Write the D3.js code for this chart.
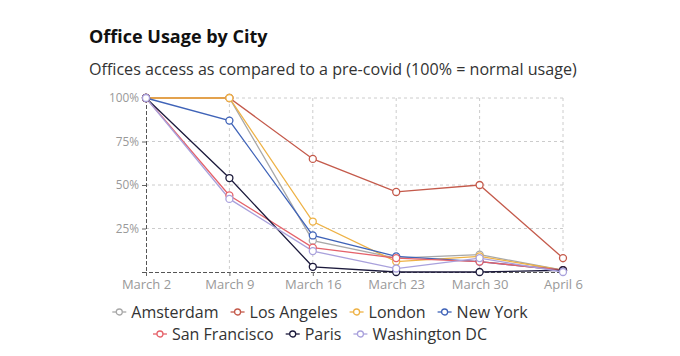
<!DOCTYPE html>
<html><head><meta charset="utf-8">
<script src="https://cdn.jsdelivr.net/npm/d3@7"></script>
<style>
html,body{margin:0;padding:0;background:#fff;}
svg text{font-family:"Open Sans","DejaVu Sans",sans-serif;}
</style></head>
<body><svg id="c" width="680" height="356"></svg>
<script>
const dates = ["March 2","March 9","March 16","March 23","March 30","April 6"];
const yTicks = [25,50,75,100];
const cities = ["Amsterdam","Los Angeles","London","New York","San Francisco","Paris","Washington DC"];
const colors = ["#a8a8a8","#c45a4b","#eeb246","#3f63b8","#e5626a","#1c1a3c","#a9a1dc"];
const amsterdam   = [100,100,18,8,10,1];
const losAngeles  = [100,100,65,46,50,8];
const london      = [100,100,29,6,9,1];
const newYork     = [100,87,21,9,6,1];
const sanFrancisco= [100,44,14,8,6,1];
const paris       = [100,54,3,0,0,1];
const washington  = [100,42,12,2,8,0];
const series = [amsterdam,losAngeles,london,newYork,sanFrancisco,paris,washington];

const svg = d3.select("#c");
const m = {l:146,r:563,t:98,b:272};
const x = d3.scalePoint().domain(dates).range([m.l,m.r]);
const y = d3.scaleLinear().domain([0,100]).range([m.b,m.t]);

svg.append("text").attr("x",89).attr("y",43).attr("font-size",18).attr("font-weight",700)
  .attr("fill","#111").text("Office Usage by City");
svg.append("text").attr("x",89).attr("y",75).attr("font-size",16.1).attr("fill","#333")
  .text("Offices access as compared to a pre-covid (100% = normal usage)");

// grid
const g = svg.append("g");
g.selectAll(".hg").data(yTicks).join("line")
  .attr("x1",m.l).attr("x2",m.r).attr("y1",d=>y(d)).attr("y2",d=>y(d))
  .attr("stroke","#ccc").attr("stroke-dasharray","3,3");
g.selectAll(".vg").data(dates.slice(1)).join("line")
  .attr("x1",d=>x(d)).attr("x2",d=>x(d)).attr("y1",m.t).attr("y2",m.b)
  .attr("stroke","#ccc").attr("stroke-dasharray","3,3");

// axes
const yAxis = svg.append("g").attr("transform",`translate(${m.l},0)`)
  .call(d3.axisLeft(y).tickValues(yTicks).tickFormat(d=>d+"%").tickSize(4).tickPadding(3));
const xAxis = svg.append("g").attr("transform",`translate(0,${m.b})`)
  .call(d3.axisBottom(x).tickSize(4).tickPadding(4));
[yAxis,xAxis].forEach(a=>{
  a.select(".domain").attr("stroke","#555").attr("stroke-dasharray","4,2");
  a.selectAll(".tick line").attr("stroke","#666");
  a.selectAll(".tick text").attr("fill","#999").attr("font-size",11.8)
   .style("font-family",'"Open Sans","DejaVu Sans",sans-serif');
});
xAxis.selectAll(".tick text").attr("font-size",13);

// lines
const line = d3.line().x((d,i)=>x(dates[i])).y(d=>y(d));
series.forEach((s,k)=>{
  svg.append("path").datum(s).attr("d",line).attr("fill","none")
    .attr("stroke",colors[k]).attr("stroke-width",1.3);
});
series.forEach((s,k)=>{
  svg.append("g").selectAll("circle").data(s).join("circle")
    .attr("cx",(d,i)=>x(dates[i])).attr("cy",d=>y(d)).attr("r",3.5)
    .attr("fill","#fff").attr("stroke",colors[k]).attr("stroke-width",1.3);
});

// legend
const rows = [[0,1,2,3],[4,5,6]];
const rowY = [312,334];
rows.forEach((r,ri)=>{
  const lg = svg.append("g");
  let cx = 0;
  r.forEach(k=>{
    const it = lg.append("g").attr("transform",`translate(${cx},0)`);
    it.append("line").attr("x1",0).attr("x2",14).attr("y1",0).attr("y2",0)
      .attr("stroke",colors[k]).attr("stroke-width",1.3);
    it.append("circle").attr("cx",7).attr("cy",0).attr("r",3)
      .attr("fill","#fff").attr("stroke",colors[k]).attr("stroke-width",1.3);
    const t = it.append("text").attr("x",19).attr("y",5.5).attr("font-size",16)
      .attr("fill","#333").text(cities[k]);
    cx += 19 + t.node().getComputedTextLength() + 12;
  });
  cx -= 12;
  lg.attr("transform",`translate(${320-cx/2},${rowY[ri]})`);
});
</script></body></html>
